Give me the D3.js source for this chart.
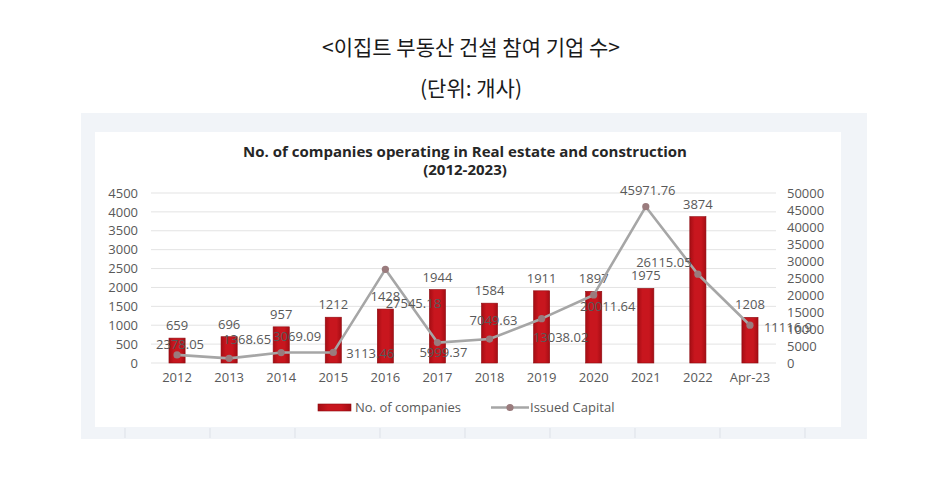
<!DOCTYPE html>
<html>
<head>
<meta charset="utf-8">
<script src="https://cdn.jsdelivr.net/npm/d3@7"></script>
<style>
  body { margin: 0; background: #fff; }
  svg text { font-family: "Open Sans", "Liberation Sans", sans-serif; }
</style>
</head>
<body>
<svg id="chart" width="930" height="497"></svg>
<script>
"use strict";

// data
var years = ["2012", "2013", "2014", "2015", "2016", "2017", "2018", "2019", "2020", "2021", "2022", "Apr-23"];
var companies = [659, 696, 957, 1212, 1428, 1944, 1584, 1911, 1897, 1975, 3874, 1208];
var capital = [2378.05, 1368.65, 3069.09, 3113.46, 27545.18, 5999.37, 7049.63, 13038.02, 20011.64, 45971.76, 26115.05, 11116.9];
var leftTicks = [0, 500, 1000, 1500, 2000, 2500, 3000, 3500, 4000, 4500];
var rightTicks = [0, 5000, 10000, 15000, 20000, 25000, 30000, 35000, 40000, 45000, 50000];
// nudge of each capital label from its point (label centre), as in the original
var capitalLabelNudge = [[3, -10], [18, -19], [16, -16], [37, 1], [28, 34], [6, 10],
                         [4, -19], [19, 19], [14, 12], [2, -16], [-34, -12], [38, 2]];

var svg = d3.select("#chart");
var fs = "13px";

// korean heading
svg.append("text").attr("x", 471).attr("y", 55)
    .attr("text-anchor", "middle")
    .style("font-family", "'Noto Sans CJK KR', sans-serif")
    .style("font-size", "21px").style("font-weight", "normal").style("fill", "#1a1a1a")
    .text("<이집트 부동산 건설 참여 기업 수>");
svg.append("text").attr("x", 471).attr("y", 96)
    .attr("text-anchor", "middle")
    .style("font-family", "'Noto Sans CJK KR', sans-serif")
    .style("font-size", "21px").style("font-weight", "normal").style("fill", "#1a1a1a")
    .text("(단위: 개사)");

// frame of the pasted chart image
svg.append("rect").attr("x", 81).attr("y", 113).attr("width", 786).attr("height", 326)
    .style("fill", "#f1f4f8");
svg.append("rect").attr("x", 95).attr("y", 132).attr("width", 746).attr("height", 295)
    .style("fill", "#fff");
[125, 210, 295, 380, 465, 550, 635, 720, 805].forEach(function(x) {
  svg.append("line").attr("x1", x).attr("x2", x).attr("y1", 428).attr("y2", 438)
      .style("stroke", "#dde1e8").style("stroke-width", 1);
});

// chart title
svg.append("text").attr("x", 465).attr("y", 157)
    .attr("text-anchor", "middle")
    .style("font-size", "15px").style("font-weight", "bold").style("fill", "#262626")
    .text("No. of companies operating in Real estate and construction");
svg.append("text").attr("x", 465).attr("y", 175)
    .attr("text-anchor", "middle")
    .style("font-size", "15px").style("font-weight", "bold").style("fill", "#262626")
    .text("(2012-2023)");

var x = d3.scaleBand().domain(years).range([151, 776]).paddingInner(0.69).paddingOuter(0.345);
var yL = d3.scaleLinear().domain([0, 4500]).range([363, 193]);
var yR = d3.scaleLinear().domain([0, 50000]).range([363, 193]);

// gridlines
svg.append("g").selectAll("line")
    .data(leftTicks)
    .enter()
    .append("line")
    .attr("x1", 151).attr("x2", 776)
    .attr("y1", function(d) { return yL(d) }).attr("y2", function(d) { return yL(d) })
    .style("stroke", "#e3e3e3").style("stroke-width", 1);

// axes
var leftAxis = svg.append("g").attr("transform", "translate(138,0)")
    .call(d3.axisLeft(yL).tickValues(leftTicks).tickFormat(d3.format("d")).tickSize(0).tickPadding(0));
var rightAxis = svg.append("g").attr("transform", "translate(787,0)")
    .call(d3.axisRight(yR).tickValues(rightTicks).tickFormat(d3.format("d")).tickSize(0).tickPadding(0));
var bottomAxis = svg.append("g").attr("transform", "translate(0,373)")
    .call(d3.axisBottom(x).tickSize(0).tickPadding(0));
[leftAxis, rightAxis, bottomAxis].forEach(function(a) {
  a.select(".domain").remove();
  a.selectAll("text").style("font-size", fs).style("fill", "#595959")
      .style("font-family", "'Open Sans', sans-serif");
});
bottomAxis.selectAll("text").attr("dy", "0.71em");

// bars
var grad = svg.append("defs").append("linearGradient").attr("id", "barFill")
    .attr("x1", "0").attr("x2", "1").attr("y1", "0").attr("y2", "0");
grad.append("stop").attr("offset", "0").attr("stop-color", "#a50d14");
grad.append("stop").attr("offset", "0.3").attr("stop-color", "#c8161e");
grad.append("stop").attr("offset", "0.7").attr("stop-color", "#c8161e");
grad.append("stop").attr("offset", "1").attr("stop-color", "#a50d14");

svg.append("g").selectAll("rect")
    .data(companies)
    .enter()
    .append("rect")
    .attr("x", function(d, i) { return x(years[i]) })
    .attr("width", x.bandwidth())
    .attr("y", function(d) { return yL(d) })
    .attr("height", function(d) { return yL(0) - yL(d) })
    .style("fill", "url(#barFill)")
    .style("stroke", "#8e0a10").style("stroke-width", 0.6);

svg.append("g").selectAll("text")
    .data(companies)
    .enter()
    .append("text")
    .attr("x", function(d, i) { return x(years[i]) + x.bandwidth() / 2 })
    .attr("y", function(d) { return yL(d) - 8 })
    .attr("text-anchor", "middle")
    .style("font-size", fs).style("fill", "#595959")
    .text(function(d) { return d });

// issued capital line
var cx = function(i) { return x(years[i]) + x.bandwidth() / 2 };
var line = d3.line()
    .x(function(d, i) { return cx(i) })
    .y(function(d) { return yR(d) });

svg.append("path").datum(capital)
    .attr("d", line)
    .style("fill", "none").style("stroke", "#a6a6a6").style("stroke-width", 2.6)
    .style("stroke-linejoin", "round");

svg.append("g").selectAll("circle")
    .data(capital)
    .enter()
    .append("circle")
    .attr("cx", function(d, i) { return cx(i) })
    .attr("cy", function(d) { return yR(d) })
    .attr("r", 3.6)
    .style("fill", "#9a7b7d");

svg.append("g").selectAll("text")
    .data(capital)
    .enter()
    .append("text")
    .attr("x", function(d, i) { return cx(i) + capitalLabelNudge[i][0] })
    .attr("y", function(d, i) { return yR(d) + capitalLabelNudge[i][1] + 4.5 })
    .attr("text-anchor", "middle")
    .style("font-size", fs).style("fill", "#595959")
    .text(function(d) { return d3.format(".2f")(d).replace(/0$/, "").replace(/\.$/, "") });

// legend
var legend = svg.append("g");
legend.append("rect").attr("x", 318).attr("y", 404).attr("width", 33).attr("height", 7)
    .style("fill", "url(#barFill)").style("stroke", "#8e0a10").style("stroke-width", 0.6);
legend.append("text").attr("x", 355).attr("y", 412)
    .style("font-size", fs).style("fill", "#595959")
    .text("No. of companies");
legend.append("line").attr("x1", 491).attr("x2", 529).attr("y1", 407.5).attr("y2", 407.5)
    .style("stroke", "#a6a6a6").style("stroke-width", 2.6);
legend.append("circle").attr("cx", 510).attr("cy", 407.5).attr("r", 3.6).style("fill", "#9a7b7d");
legend.append("text").attr("x", 530).attr("y", 412)
    .style("font-size", fs).style("fill", "#595959")
    .text("Issued Capital");
</script>
</body>
</html>
